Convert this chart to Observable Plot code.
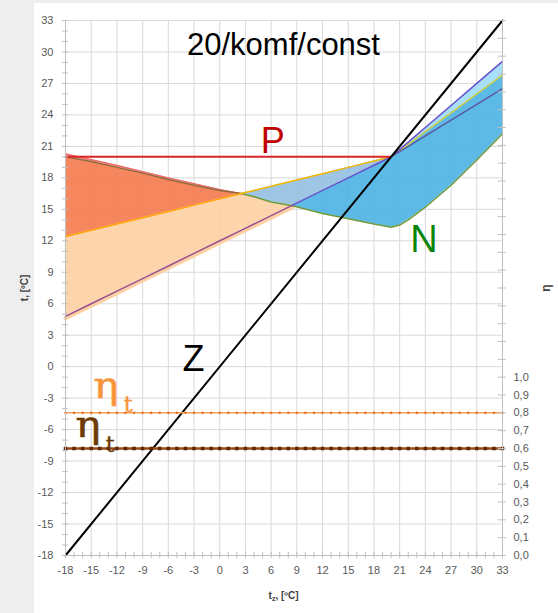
<!DOCTYPE html>
<html><head><meta charset="utf-8">
<script src="https://cdn.jsdelivr.net/npm/d3@7"></script>
<script src="https://cdn.jsdelivr.net/npm/@observablehq/plot@0.6"></script>
<style>
html,body{margin:0;padding:0;background:#eeeeee;width:558px;height:613px;overflow:hidden;}
#panel{position:absolute;left:34px;top:3px;width:524px;height:610px;background:#fff;}
#chart{position:absolute;left:0;top:0;}
</style></head><body>
<div id="panel"></div><div id="chart"></div>
<script>
// ---- data ----
const tz      = [-18,-15,-12,-9,-6,-3,0,2.5,4,6,8.5,12,15,18,20,21,22,24,27,30,33];
const tN      = [20.0,19.55,19.0,18.45,17.85,17.3,16.8,16.5,16.2,15.7,15.35,14.6,14.1,13.6,13.3,13.5,14.0,15.2,17.3,19.7,22.2];
const tYellow = [12.4,13.0,13.6,14.2,14.8,15.4,16.0,16.5,16.8,17.2,17.7,18.4,19.0,19.6,20.0,20.6,21.2,22.4,24.2,26.0,27.8];
const tViolet = [4.8,6.0,7.2,8.4,9.6,10.8,12.0,13.0,13.6,14.4,15.4,16.8,18.0,19.2,20.0,20.7,21.4,22.8,24.9,27.0,29.1];
const tzLeft  = [-18,-15,-12,-9,-6,-3,0,2.5];
const tPink   = [20.3,19.75,19.2,18.6,18.0,17.45,16.9,16.5];
const tzRight = [20,21,22,24,27,30,33];
const tSlate  = [20,20.5,21,22,23.5,25,26.5];
const pLineX  = [-18, 20];
const pLineY  = [20, 20];
const zLineX  = [-18, 33];
const zLineY  = [-18, 33];
const etaOrange = 0.8;
const etaBrown  = 0.6;
const xTickLabels = [-18,-15,-12,-9,-6,-3,0,3,6,9,12,15,18,21,24,27,30,33];
const yTickLabels = [-18,-15,-12,-9,-6,-3,0,3,6,9,12,15,18,21,24,27,30,33];
const etaTickLabels = [0.0,0.1,0.2,0.3,0.4,0.5,0.6,0.7,0.8,0.9,1.0];
const etaAxisMax = 3.0;
const title = "20/komf/const";

// right axis η maps onto the t range
const tOfEta = e => -18 + e * (51 / etaAxisMax);

const rows = tz.map((x, i) => ({x, n: tN[i], yl: tYellow[i], v: tViolet[i]}));
const inR = (a, b) => rows.filter(d => d.x >= a && d.x <= b);
const leftRows = tzLeft.map((x, i) => ({x, n: tN[tz.indexOf(x)], p: tPink[i]}));
const rightRows = tzRight.map((x, i) => ({x, s: tSlate[i]}));
const pRows = pLineX.map((x, i) => ({x, y: pLineY[i]}));
const zRows = zLineX.map((x, i) => ({x, y: zLineY[i]}));
const minorX = d3.range(-18, 34, 1);
const minorY = d3.range(-18, 34, 1);
const etaMinor = d3.range(0, Math.round(etaAxisMax * 10) + 1).map(k => k / 10);
const markerX = d3.range(-18, 34, 1);

const FO = 0.9;
const chart = Plot.plot({
  width: 558, height: 613,
  marginLeft: 65, marginRight: 56, marginTop: 20, marginBottom: 58,
  x: {domain: [-18, 33], axis: null},
  y: {domain: [-18, 33], axis: null},
  style: {background: "transparent", fontFamily: "Liberation Sans, Arial, sans-serif", fontSize: "11px", color: "#595959", overflow: "visible"},
  marks: [
    Plot.ruleX(xTickLabels, {stroke: "#d9d9d9", strokeWidth: 1}),
    Plot.ruleY(yTickLabels, {stroke: "#d9d9d9", strokeWidth: 1}),
    // filled regions
    Plot.areaY(inR(-18, 2.5), {x: "x", y1: "yl", y2: "n", fill: "#f5794d", fillOpacity: FO}),
    Plot.areaY(leftRows, {x: "x", y1: "n", y2: "p", fill: "#f17571", fillOpacity: FO}),
    Plot.areaY(inR(-18, 8.5), {x: "x", y1: "v", y2: d => Math.min(d.yl, d.n), fill: "#fdd0a4", fillOpacity: FO}),
    Plot.areaY(inR(2.5, 20), {x: "x", y1: d => Math.max(d.n, d.v), y2: "yl", fill: "#94bfe0", fillOpacity: FO}),
    Plot.areaY(inR(8.5, 33), {x: "x", y1: "n", y2: d => d.x <= 20 ? d.v : d.yl, fill: "#4bb3e3", fillOpacity: FO}),
    Plot.areaY(inR(20, 33), {x: "x", y1: "yl", y2: "v", fill: "#9fdbfa", fillOpacity: FO}),
    Plot.line(inR(-18, 8.5), {x: "x", y: "v", stroke: "#fdd0a4", strokeWidth: 4, dy: 2}),
    // boundary lines
    Plot.line(leftRows, {x: "x", y: "p", stroke: "#ee6a6a", strokeWidth: 1}),
    Plot.line(inR(-18, 2.5), {x: "x", y: "n", stroke: "#8f6d3c", strokeWidth: 1.5}),
    Plot.line(inR(2.5, 33), {x: "x", y: "n", stroke: "#6f9a3a", strokeWidth: 1.5}),
    Plot.line(inR(-18, 2.5), {x: "x", y: "yl", stroke: "#ffa200", strokeWidth: 1.5}),
    Plot.line(inR(2.5, 20), {x: "x", y: "yl", stroke: "#f2b800", strokeWidth: 1.5}),
    Plot.line(inR(20, 33), {x: "x", y: "yl", stroke: "#cfcf4a", strokeWidth: 1.5}),
    Plot.line(inR(-18, 8.5), {x: "x", y: "v", stroke: "#9a4f8c", strokeWidth: 1.5}),
    Plot.line(inR(8.5, 33), {x: "x", y: "v", stroke: "#6a52cc", strokeWidth: 1.5}),
    Plot.line(rightRows, {x: "x", y: "s", stroke: "#5a5aa0", strokeWidth: 1.5}),
    // P and Z
    Plot.line(pRows, {x: "x", y: "y", stroke: "#d92626", strokeWidth: 2}),
    Plot.line(zRows, {x: "x", y: "y", stroke: "#000", strokeWidth: 2}),
    // η lines
    Plot.ruleY([tOfEta(etaOrange)], {x1: -18, x2: 33, stroke: "#f5a05a", strokeWidth: 1.5}),
    Plot.dot(markerX, {x: d => d, y: () => tOfEta(etaOrange), r: 1.3, fill: "#e8742a", stroke: null}),
    Plot.ruleY([tOfEta(etaBrown)], {x1: -18, x2: 33, stroke: "#9a4a16", strokeWidth: 2.5}),
    Plot.dot(markerX, {x: d => d, y: () => tOfEta(etaBrown), symbol: "square", r: 2, fill: "#5c2806", stroke: null}),
    // axes lines & ticks
    Plot.ruleX([-18, 33], {stroke: "#bfbfbf", strokeWidth: 1}),
    Plot.ruleY([-18], {stroke: "#bfbfbf", strokeWidth: 1}),
    Plot.ruleX(minorX, {y1: -18.3, y2: -17.7, stroke: "#bfbfbf"}),
    Plot.ruleY(minorY, {x1: -18.35, x2: -17.65, stroke: "#bfbfbf"}),
    Plot.ruleY(etaMinor.map(tOfEta), {x1: 32.5, x2: 33.45, stroke: "#bfbfbf"}),
    // tick labels
    Plot.text(xTickLabels, {x: d => d, frameAnchor: "bottom", dy: 18, text: d => String(d), fontSize: 11, fill: "#595959"}),
    Plot.text(yTickLabels, {y: d => d, frameAnchor: "left", dx: -12, textAnchor: "end", text: d => String(d), fontSize: 11, fill: "#595959"}),
    Plot.text(etaTickLabels, {y: d => tOfEta(d), frameAnchor: "right", dx: 11, textAnchor: "start", text: d => d.toFixed(1).replace(".", ","), fontSize: 11, fill: "#595959"})
  ]
});
document.getElementById("chart").appendChild(chart);

// annotations placed through the chart's scales
const X = chart.scale("x"), Y = chart.scale("y");
const svg = d3.select(chart);
const sans = "Liberation Sans, Arial, sans-serif";
svg.append("text").attr("x", X.apply(7.5)).attr("y", Y.apply(29.66)).attr("text-anchor", "middle")
  .attr("font-family", sans).attr("font-size", 31).attr("fill", "#000").text(title);
svg.append("text").attr("x", X.apply(6.25)).attr("y", Y.apply(20.32)).attr("text-anchor", "middle")
  .attr("font-family", sans).attr("font-size", 36).attr("fill", "#c00000").text("P");
svg.append("text").attr("x", X.apply(23.9)).attr("y", Y.apply(10.88)).attr("text-anchor", "middle")
  .attr("font-family", sans).attr("font-size", 38).attr("fill", "#0a840a").text("N");
svg.append("text").attr("x", X.apply(-3.0)).attr("y", Y.apply(-0.46)).attr("text-anchor", "middle")
  .attr("font-family", sans).attr("font-size", 36).attr("fill", "#000").text("Z");
function etaLabel(x, y, color, tdy) {
  const x0 = X.apply(x), y0 = Y.apply(y);
  svg.append("text").attr("x", x0).attr("y", y0)
    .attr("font-family", "DejaVu Serif, serif").attr("font-size", 38).attr("fill", color)
    .attr("stroke", color).attr("stroke-width", 0.6)
    .attr("textLength", 25).attr("lengthAdjust", "spacingAndGlyphs").text("η");
  svg.append("text").attr("x", x0 + 22).attr("y", y0 + tdy)
    .attr("font-family", "DejaVu Serif, serif").attr("font-size", 22).attr("fill", color)
    .attr("stroke", color).attr("stroke-width", 0.4).text("t");
}
etaLabel(-13.2, -3.03, "#f7943a", 14);
etaLabel(-15.3, -6.75, "#6e3a06", 15);
// axis titles
const bold = (sel) => sel.attr("font-family", sans).attr("font-weight", "bold").attr("font-size", 10).attr("fill", "#404040");
bold(svg.append("text")).attr("transform", "translate(24,288) rotate(-90)").attr("text-anchor", "middle").attr("dy", "0.35em").text("t, [ºC]");
const xl = bold(svg.append("text")).attr("x", X.apply(7.5)).attr("y", 599).attr("text-anchor", "middle");
xl.append("tspan").text("t");
xl.append("tspan").attr("font-size", 7).attr("dy", 2).text("z");
xl.append("tspan").attr("dy", -2).text(", [ºC]");
bold(svg.append("text")).attr("transform", "translate(546,288) rotate(-90)").attr("text-anchor", "middle").attr("dy", "0.35em").attr("font-size", 12).text("η");
</script>
</body></html>
